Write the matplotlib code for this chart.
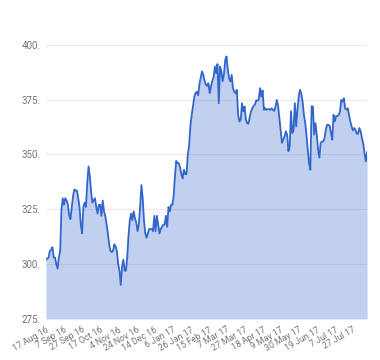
import matplotlib
matplotlib.use("Agg")
import matplotlib.pyplot as plt
import matplotlib.transforms as mtransforms
import numpy as np

# Closing prices (trading days from 17 Aug 16)
values = [
    302, 302.5, 303, 306, 306.5, 307.7, 303, 303, 300, 298,
    303, 306, 325, 330, 327, 330, 329, 327, 322, 320.5,
    326, 331, 334, 333.5, 333.5, 330, 326, 318, 314, 326,
    328, 326, 337, 344.5, 340, 333, 328, 329, 330, 326,
    323, 327, 327, 322, 329, 324, 322, 318, 314, 309,
    306, 305.5, 306, 309, 308, 306, 300, 297, 290.5, 299,
    302, 297, 297, 303, 313, 320, 323, 320, 324, 321,
    319, 315, 318, 326, 336, 330, 320, 314, 312, 314,
    316, 316, 316, 315, 322, 315, 322, 318, 314, 316,
    317, 318, 318, 322, 317, 326, 324, 327, 327, 331,
    340, 347, 346, 346, 344, 341, 339, 343, 341, 341,
    350, 354, 363, 368, 372, 376, 378, 378.5, 377, 382,
    385, 387.8, 386.2, 383.6, 381.7, 381.2, 382.4, 377.9, 381, 383.6,
    385.2, 390, 387, 391.2, 373.3, 390, 387.9, 383.3, 386.4, 393,
    394.6, 388.5, 384.7, 383.2, 386.2, 380.2, 378.6, 377.9, 379.4, 368,
    365, 365.8, 373.3, 369.6, 371.8, 366, 364.2, 364, 367, 369.6,
    371, 372.1, 372.6, 374.6, 374.4, 375.2, 380.2, 376.3, 379.1, 370.3,
    371, 370.3, 370.6, 370.6, 370.3, 371, 370.3, 369.8, 371.8, 374.8,
    372.1, 366.5, 360.5, 355.2, 356.7, 358.2, 360.5, 359, 351.4, 353.6,
    369.6, 359.7, 361.2, 373.3, 362.7, 370.3, 376.3, 379.4, 377.6, 374,
    368, 364.5, 359, 352.1, 346, 343, 372, 371.8, 359, 364.2,
    359, 352, 348.5, 355.2, 355.8, 355.9, 357.4, 361.2, 363.5, 363.5,
    363, 359.7, 356.7, 368, 365, 367.3, 367.6, 367.8, 369.6, 374.8,
    374, 375.6, 371, 370.3, 371, 368, 365, 362.7, 360.9, 362,
    361.2, 359.4, 359.4, 362, 360.5, 357.4, 355.2, 350.6, 346.8, 351,
]

tick_labels = ["17 Aug 16", "7 Sep 16", "27 Sep 16", "17 Oct 16", "4 Nov 16",
               "24 Nov 16", "14 Dec 16", "6 Jan 17", "26 Jan 17", "15 Feb 17",
               "7 Mar 17", "27 Mar 17", "18 Apr 17", "9 May 17", "30 May 17",
               "19 Jun 17", "7 Jul 17", "27 Jul 17"]
y_ticks = [275, 300, 325, 350, 375, 400]
y_tick_labels = ["275.", "300.", "325.", "350.", "375.", "400."]

plt.rcParams['font.family'] = ['Roboto', 'DejaVu Sans']

fig = plt.figure(figsize=(3.8, 3.6), dpi=100)
ax = fig.add_axes([0.121, 0.114, 0.845, 0.762])

x = np.arange(len(values))
line_color = "#3366CC"
ax.fill_between(x, values, 275, color=line_color, alpha=0.3, linewidth=0, zorder=2)
ax.plot(x, values, color=line_color, linewidth=1.3, zorder=3)

ax.set_xlim(0, len(values) - 1)
ax.set_ylim(275, 400)
ax.set_yticks(y_ticks)
ax.set_yticklabels(y_tick_labels)
ax.set_xticks(np.arange(0, 14 * len(tick_labels), 14))
ax.set_xticklabels(tick_labels, rotation=30, ha='right', rotation_mode='anchor')

offset = mtransforms.ScaledTranslation(3 / 100, 0, fig.dpi_scale_trans)
for lab in ax.get_xticklabels():
    lab.set_transform(lab.get_transform() + offset)
    lab.set_fontsize(6.3)

ax.grid(axis='y', color='#EBEBEB', linewidth=0.8, zorder=1)
ax.set_axisbelow(True)
for s in ax.spines.values():
    s.set_visible(False)
ax.tick_params(axis='both', length=0, colors='#757575')
ax.tick_params(axis='y', pad=4, labelsize=7)
ax.tick_params(axis='x', pad=4.5)

fig.savefig("out.png", dpi=100)
